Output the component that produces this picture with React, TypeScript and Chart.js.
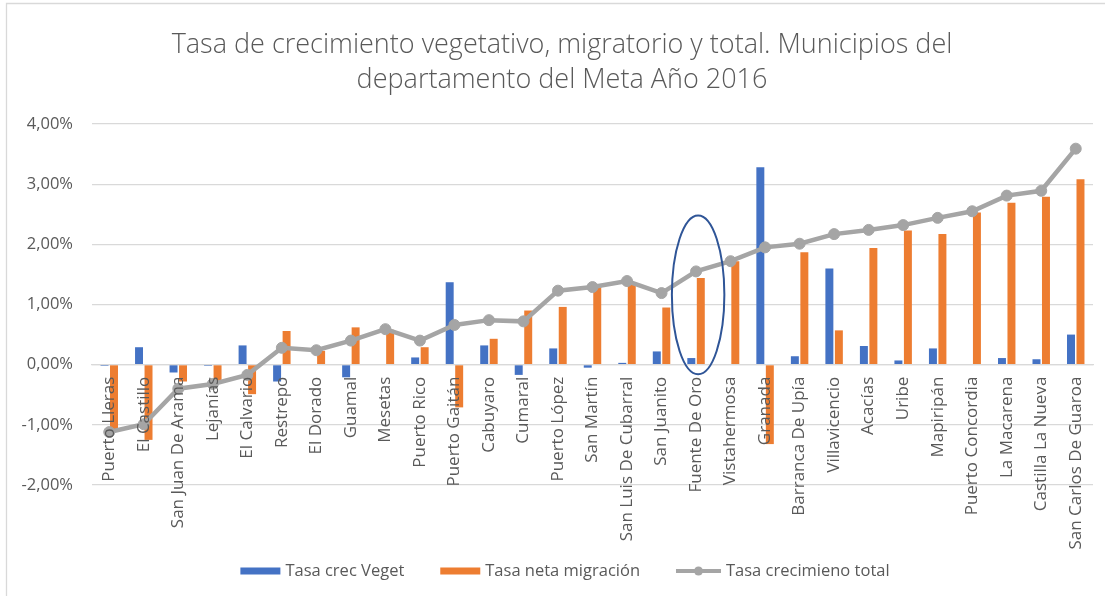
import React, { useEffect, useRef } from "react";
import { Chart, registerables } from "chart.js";

Chart.register(...registerables);

const categories = [
  "Puerto Lleras", "El Castillo", "San Juan De Arama", "Lejanías", "El Calvario",
  "Restrepo", "El Dorado", "Guamal", "Mesetas", "Puerto Rico", "Puerto Gaitán",
  "Cabuyaro", "Cumaral", "Puerto López", "San Martín", "San Luis De Cubarral",
  "San Juanito", "Fuente De Oro", "Vistahermosa", "Granada", "Barranca De Upía",
  "Villavicencio", "Acacías", "Uribe", "Mapiripán", "Puerto Concordia",
  "La Macarena", "Castilla La Nueva", "San Carlos De Guaroa",
];

const vegetativo = [
  -0.02, 0.29, -0.13, -0.02, 0.32, -0.28, 0, -0.21, 0, 0.12, 1.37, 0.32, -0.17,
  0.27, -0.05, 0.03, 0.22, 0.11, 0, 3.28, 0.14, 1.6, 0.31, 0.07, 0.27, 0, 0.11,
  0.09, 0.5,
];

const migracion = [
  -1.11, -1.25, -0.28, -0.3, -0.49, 0.56, 0.23, 0.62, 0.58, 0.29, -0.71, 0.43,
  0.9, 0.96, 1.33, 1.34, 0.95, 1.44, 1.72, -1.32, 1.87, 0.57, 1.94, 2.23, 2.17,
  2.53, 2.69, 2.79, 3.08,
];

const totalCrec = [
  -1.12, -0.99, -0.4, -0.32, -0.17, 0.28, 0.24, 0.4, 0.59, 0.4, 0.66, 0.74, 0.72,
  1.23, 1.29, 1.39, 1.19, 1.55, 1.72, 1.95, 2.01, 2.17, 2.24, 2.32, 2.44, 2.55,
  2.81, 2.89, 3.59,
];

const titleLines = [
  "Tasa de crecimiento vegetativo, migratorio y total. Municipios del",
  "departamento del Meta Año 2016",
];
const seriesNames = ["Tasa crec Veget", "Tasa neta migración", "Tasa crecimieno total"];
const highlighted = "Fuente De Oro";
const highlightRange = [-0.16, 2.48];

const Y_MIN = -2;
const Y_MAX = 4;
const Y_STEP = 1;

const BLUE = "#4472C4";
const ORANGE = "#ED7D31";
const GRAY = "#A5A5A5";
const GRID = "#D9D9D9";
const TEXT = "#595959";
const FONT = "'Open Sans', sans-serif";

const fmt = (v: number) => v.toFixed(2).replace(".", ",") + "%";

const decorPlugin = {
  id: "decor",
  afterDraw(chart: any) {
    const ctx = chart.ctx as CanvasRenderingContext2D;
    const xs = chart.scales.x;
    const ys = chart.scales.y;
    ctx.save();

    // outer frame (top & left visible)
    ctx.strokeStyle = GRID;
    ctx.lineWidth = 1.3;
    ctx.beginPath();
    ctx.moveTo(6.5, chart.height);
    ctx.lineTo(6.5, 3.5);
    ctx.lineTo(chart.width, 3.5);
    ctx.stroke();

    // title
    ctx.fillStyle = TEXT;
    ctx.font = `300 27px ${FONT}`;
    ctx.textAlign = "center";
    ctx.textBaseline = "middle";
    titleLines.forEach((t, i) => ctx.fillText(t, 562, 45 + i * 35));

    // highlight ellipse
    const idx = categories.indexOf(highlighted);
    const cw = xs.getPixelForValue(1) - xs.getPixelForValue(0);
    const cx = xs.getPixelForValue(idx);
    const top = ys.getPixelForValue(highlightRange[1]);
    const bottom = ys.getPixelForValue(highlightRange[0]);
    ctx.strokeStyle = "#2F5597";
    ctx.lineWidth = 2;
    ctx.beginPath();
    ctx.ellipse(cx + 0.06 * cw, (top + bottom) / 2, 0.76 * cw, (bottom - top) / 2, 0, 0, Math.PI * 2);
    ctx.stroke();

    // legend
    ctx.font = `16.5px ${FONT}`;
    ctx.textAlign = "left";
    ctx.textBaseline = "middle";
    const symW = [40, 40, 45];
    const gapIn = 5;
    const gapOut = 36;
    const widths = seriesNames.map((n, i) => symW[i] + gapIn + ctx.measureText(n).width);
    const totalW = widths.reduce((a, b) => a + b, 0) + gapOut * (widths.length - 1);
    let lx = 565 - totalW / 2;
    const ly = 571;
    seriesNames.forEach((name, i) => {
      if (i < 2) {
        ctx.fillStyle = i === 0 ? BLUE : ORANGE;
        ctx.fillRect(lx, ly - 3.5, symW[i], 7);
      } else {
        ctx.strokeStyle = GRAY;
        ctx.lineWidth = 4;
        ctx.beginPath();
        ctx.moveTo(lx, ly);
        ctx.lineTo(lx + symW[i], ly);
        ctx.stroke();
        ctx.fillStyle = GRAY;
        ctx.beginPath();
        ctx.arc(lx + symW[i] / 2, ly, 4.5, 0, Math.PI * 2);
        ctx.fill();
      }
      ctx.fillStyle = TEXT;
      ctx.fillText(name, lx + symW[i] + gapIn, ly);
      lx += widths[i] + gapOut;
    });

    ctx.restore();
  },
};

export default function App() {
  const canvasRef = useRef<HTMLCanvasElement | null>(null);

  useEffect(() => {
    document.body.style.margin = "0";
    const canvas = canvasRef.current;
    if (!canvas) return;
    const chart = new Chart(canvas, {
      type: "bar",
      data: {
        labels: categories,
        datasets: [
          {
            type: "bar",
            label: seriesNames[0],
            data: vegetativo,
            backgroundColor: BLUE,
            categoryPercentage: 0.55,
            barPercentage: 0.84,
            order: 1,
          },
          {
            type: "bar",
            label: seriesNames[1],
            data: migracion,
            backgroundColor: ORANGE,
            categoryPercentage: 0.55,
            barPercentage: 0.84,
            order: 1,
          },
          {
            type: "line",
            label: seriesNames[2],
            data: totalCrec,
            borderColor: GRAY,
            backgroundColor: GRAY,
            borderWidth: 4.5,
            pointRadius: 5.5,
            pointBackgroundColor: GRAY,
            pointBorderColor: GRAY,
            pointBorderWidth: 1,
            order: 0,
          },
        ],
      } as any,
      options: {
        responsive: false,
        animation: false,
        devicePixelRatio: 1,
        layout: { padding: { top: 124, bottom: 111, left: 0, right: 12 } },
        plugins: {
          legend: { display: false },
          title: { display: false },
          tooltip: { enabled: false },
        },
        scales: {
          x: {
            type: "category",
            position: { y: 0 } as any,
            grid: { display: false },
            border: { display: true, color: GRID, width: 1.3 },
            ticks: {
              autoSkip: false,
              minRotation: 90,
              maxRotation: 90,
              color: TEXT,
              font: { family: FONT, size: 17 },
              padding: 4,
              z: 1,
            },
          },
          y: {
            min: Y_MIN,
            max: Y_MAX,
            grid: { color: GRID, lineWidth: 1.3, drawTicks: false },
            border: { display: false },
            ticks: {
              stepSize: Y_STEP,
              color: TEXT,
              font: { family: FONT, size: 16.5 },
              padding: 19,
              callback: (v: any) => fmt(Number(v)),
            },
            afterFit: (s: any) => {
              s.width = 92;
            },
          },
        },
      },
      plugins: [decorPlugin],
    });
    return () => chart.destroy();
  }, []);

  return (
    <div style={{ width: 1105, height: 596, position: "relative", background: "#fff" }}>
      <canvas ref={canvasRef} width={1105} height={596} style={{ display: "block" }} />
    </div>
  );
}
